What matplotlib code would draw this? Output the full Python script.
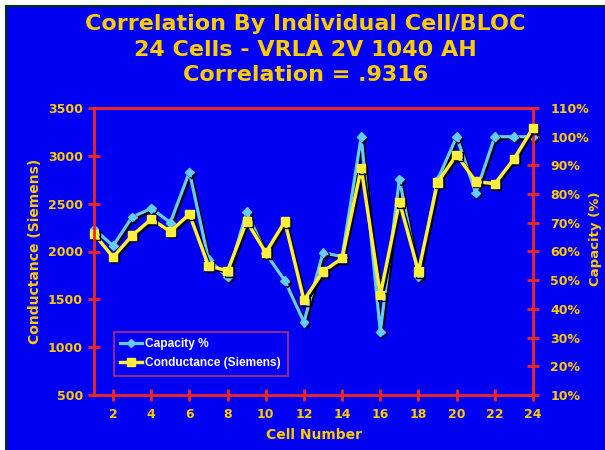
import matplotlib
matplotlib.use("Agg")
import matplotlib.pyplot as plt
import matplotlib.patheffects as pe
from matplotlib.patches import Rectangle
from matplotlib.ticker import FuncFormatter

cells = list(range(1, 25))
capacity_pct = [67.8, 62.0, 72.0, 75.0, 70.1, 87.7, 57.1, 51.1, 73.8, 59.4, 49.8, 35.4,
                59.6, 58.2, 100.0, 32.1, 85.2, 51.3, 85.0, 100.0, 80.4, 100.0, 100.0, 100.0]
conductance = [2185, 1941, 2167, 2339, 2209, 2391, 1850, 1798, 2315, 1989, 2313, 1491,
               1790, 1930, 2872, 1546, 2520, 1790, 2722, 3011, 2732, 2708, 2966, 3291]
left_ticks = [500, 1000, 1500, 2000, 2500, 3000, 3500]
right_ticks = [10, 20, 30, 40, 50, 60, 70, 80, 90, 100, 110]
x_ticks = list(range(2, 25, 2))
title_lines = ["Correlation By Individual Cell/BLOC", "24 Cells - VRLA 2V 1040 AH", "Correlation = .9316"]

BLUE = "#0000F2"
GOLD = "#FFCC00"
RED = "#F0281E"
CYAN = "#66CCFF"
YEL = "#FFEE3A"
FONT = "DejaVu Sans"

W, H = 605, 450
fig = plt.figure(figsize=(W / 100, H / 100), dpi=100, facecolor="white")
fig.patches.append(Rectangle((6 / W, -0.01), 1.0, 1 - 6 / H + 0.01, transform=fig.transFigure,
                             facecolor=BLUE, edgecolor="#003300", linewidth=1.5, zorder=-5))

ax = fig.add_axes([94 / W, 1 - 395 / H, (533 - 94) / W, (395 - 108) / H])
ax2 = ax.twinx()
ax2.set_zorder(1)
ax.set_zorder(2)
ax.patch.set_visible(False)
ax2.patch.set_visible(False)

shadow = [pe.SimpleLineShadow(offset=(1.3, -1.3), shadow_color="black", alpha=1.0), pe.Normal()]

l_cap, = ax2.plot(cells, capacity_pct, color=CYAN, lw=2.3, marker="D", ms=4.5,
                  mfc=CYAN, mec=CYAN, clip_on=False, path_effects=shadow, label="Capacity %")
l_con, = ax.plot(cells, conductance, color=YEL, lw=2.5, marker="s", ms=6,
                 mfc=YEL, mec=YEL, clip_on=False, path_effects=shadow, label="Conductance (Siemens)")

ax.set_xlim(1, 24)
ax.set_ylim(500, 3500)
ax2.set_ylim(10, 110)
ax.set_xticks(x_ticks)
ax.set_yticks(left_ticks)
ax2.set_yticks(right_ticks)
ax2.yaxis.set_major_formatter(FuncFormatter(lambda v, p: f"{int(v)}%"))

for a in (ax, ax2):
    for s in a.spines.values():
        s.set_color(RED)
        s.set_linewidth(2)
    a.tick_params(colors=RED, width=2, length=9, direction="inout", labelcolor=GOLD,
                  labelsize=9)
    for lab in a.get_xticklabels() + a.get_yticklabels():
        lab.set_fontweight("bold")
        lab.set_family(FONT)
ax.tick_params(axis="x", pad=5)
ax2.tick_params(axis="y", pad=8)
ax2.spines["bottom"].set_visible(False)
ax2.spines["left"].set_visible(False)
ax.spines["right"].set_visible(False)

ax.set_xlabel("Cell Number", color=GOLD, fontsize=10, fontweight="bold", family=FONT, labelpad=5)
ax.set_ylabel("Conductance (Siemens)", color=GOLD, fontsize=10, fontweight="bold", family=FONT, labelpad=4)
lab2 = ax2.set_ylabel("Capacity (%)", color=GOLD, fontsize=9.5, fontweight="bold", family=FONT)
ax2.yaxis.set_label_coords(1.143, 0.545)
lab2.set_va("center")

for i, t in enumerate(title_lines):
    fig.text(0.505, 1 - (24 + 25.5 * i) / H, t, ha="center", va="center", color=GOLD,
             fontsize=16, fontweight="bold", family=FONT)

leg = ax.legend(handles=[l_cap, l_con], loc="lower left", bbox_to_anchor=(0.045, 0.066),
                borderaxespad=0, facecolor=BLUE, edgecolor="#B03070", framealpha=1,
                fancybox=False, prop={"family": "Liberation Sans", "weight": "bold", "size": 8.6},
                handlelength=1.8, handletextpad=0.3, borderpad=0.55, labelspacing=0.6)
leg.get_frame().set_linewidth(1.2)
for txt in leg.get_texts():
    txt.set_color("white")
for h in leg.legend_handles:
    h.set_path_effects([])

fig.savefig("out.png", dpi=100, facecolor=fig.get_facecolor())
